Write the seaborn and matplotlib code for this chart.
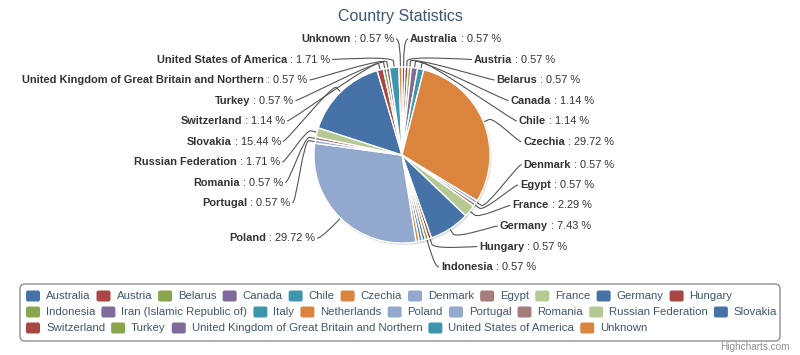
import numpy as np
import matplotlib
matplotlib.use("Agg")
import matplotlib.pyplot as plt
from matplotlib.path import Path
from matplotlib.patches import PathPatch, FancyBboxPatch
import seaborn as sns

# ---- data ----
countries = [
    "Australia", "Austria", "Belarus", "Canada", "Chile", "Czechia",
    "Denmark", "Egypt", "France", "Germany", "Hungary", "Indonesia",
    "Iran (Islamic Republic of)", "Italy", "Netherlands", "Poland",
    "Portugal", "Romania", "Russian Federation", "Slovakia",
    "Switzerland", "Turkey",
    "United Kingdom of Great Britain and Northern",
    "United States of America", "Unknown",
]
shares = [
    0.57, 0.57, 0.57, 1.14, 1.14, 29.72,
    0.57, 0.57, 2.29, 7.43, 0.57, 0.57,
    0.57, 0.57, 0.57, 29.72,
    0.57, 0.57, 1.71, 15.44,
    1.14, 0.57,
    0.57,
    1.71, 0.57,
]
sliced = "Poland"
title = "Country Statistics"

# highcharts default colours, the chart repeats one after Poland
hc_colors = ["#4572A7", "#AA4643", "#89A54E", "#80699B", "#3D96AE",
             "#DB843D", "#92A8CD", "#A47D7C", "#B5CA92"]
pal = sns.color_palette(hc_colors)
color_idx = list(range(16)) + list(range(15, 24))
slice_colors = [pal[i % len(pal)] for i in color_idx]


def px(v):
    # pixel size -> points at dpi 100
    return v * 72 / 100


sns.set_style("white")
plt.rcParams["font.family"] = ["Liberation Sans", "DejaVu Sans"]

W, H = 800, 355
fig = plt.figure(figsize=(W / 100, H / 100), dpi=100)
ax = fig.add_axes([0, 0, 1, 1])

cx, cy, r = 402, 155, 88
explode = [10 / r if c == sliced else 0 for c in countries]
wedges, _ = ax.pie(
    shares, colors=slice_colors, startangle=-90, counterclock=True,
    center=(cx, cy), radius=r, explode=explode,
    wedgeprops=dict(edgecolor="white", linewidth=1),
    shadow=dict(ox=0.7, oy=1.0, shade=0.5, alpha=0.12),
)
ax.set_xlim(0, W)
ax.set_ylim(H, 0)
ax.axis("off")

renderer = fig.canvas.get_renderer()


def text_w(t):
    return t.get_window_extent(renderer).width


# ---- data labels, laid out in slots like highcharts ----
R = r + 28
pad = 6
step = 20.5
top, bottom = 39, 267
nslots = int((bottom - top) // step) + 1
total = sum(shares)
lab_fs = px(11)

items = []
for i, w in enumerate(wedges):
    mid = np.deg2rad((w.theta1 + w.theta2) / 2)
    items.append(dict(i=i, ang=mid, nat=cy + R * np.sin(mid),
                      right=np.cos(mid) >= 0))

for is_right in (True, False):
    side = sorted([it for it in items if it["right"] == is_right],
                  key=lambda it: it["nat"])
    if len(side) > nslots:
        # not enough room: the smallest slices lose their label
        keep = sorted(side, key=lambda it: -shares[it["i"]])[:nslots]
        keep_ids = {it["i"] for it in keep}
        side = [it for it in side if it["i"] in keep_ids]
    n = len(side)
    ys = [it["nat"] for it in side]
    ys[0] = max(ys[0], top)
    for k in range(1, n):
        ys[k] = max(ys[k], ys[k - 1] + step)
    ys[-1] = min(ys[-1], bottom)
    for k in range(n - 2, -1, -1):
        ys[k] = min(ys[k], ys[k + 1] - step)

    sgn = 1 if is_right else -1
    for k, it in enumerate(side):
        y = ys[k]
        yx = it["nat"] if k in (0, n - 1) else y
        dx = np.sqrt(max(R ** 2 - (yx - cy) ** 2, 0))
        xc = cx + sgn * dx
        w = wedges[it["i"]]
        d = np.array([np.cos(it["ang"]), np.sin(it["ang"])])
        c0 = np.array(w.center)
        p4 = c0 + r * d
        p2 = c0 + (r + 6) * d
        verts = [(xc + sgn * 4, y), (xc, y), tuple(2 * p2 - p4), tuple(p2), tuple(p4)]
        codes = [Path.MOVETO, Path.CURVE4, Path.CURVE4, Path.CURVE4, Path.LINETO]
        ax.add_patch(PathPatch(Path(verts, codes), fill=False,
                               edgecolor="#555555", linewidth=0.8, zorder=0.5))

        name = countries[it["i"]]
        val = " : {:.2f} %".format(shares[it["i"]] / total * 100)
        if is_right:
            tn = ax.text(xc + pad, y, name, ha="left", va="center",
                         fontsize=lab_fs, fontweight="bold", color="#333333")
            ax.text(xc + pad + text_w(tn), y, val, ha="left", va="center",
                    fontsize=lab_fs, color="#333333")
        else:
            tv = ax.text(xc - pad, y, val, ha="right", va="center",
                         fontsize=lab_fs, color="#333333")
            ax.text(xc - pad - text_w(tv), y, name, ha="right", va="center",
                    fontsize=lab_fs, fontweight="bold", color="#333333")

# ---- title ----
ax.text(W / 2, 17, title, ha="center", va="center", fontsize=px(16),
        color="#3e576f")

# ---- legend (flowing rows inside a rounded box) ----
ax.add_patch(FancyBboxPatch((20, 284), 760, 57,
                            boxstyle="round,pad=0,rounding_size=5",
                            facecolor="white", edgecolor="#909090",
                            linewidth=1, zorder=2))
leg_fs = px(11.4)
x0, xmax = 26, 779
row_y0, row_step = 296, 16
x, row = x0, 0
for i, c in enumerate(countries):
    t = ax.text(0, 0, c, ha="left", va="center", fontsize=leg_fs,
                color="#3e576f", zorder=3)
    tw = text_w(t)
    item_w = 14 + 6 + tw
    if x + item_w > xmax:
        row += 1
        x = x0
    y = row_y0 + row * row_step
    ax.add_patch(FancyBboxPatch((x, y - 5.5), 14, 11,
                                boxstyle="round,pad=0,rounding_size=2",
                                facecolor=slice_colors[i], edgecolor="none",
                                zorder=3))
    t.set_position((x + 20, y))
    x += item_w + 6

ax.text(790, 347, "Highcharts.com", ha="right", va="center",
        fontsize=px(10), color="#909090")

fig.savefig("out.png", dpi=100)
